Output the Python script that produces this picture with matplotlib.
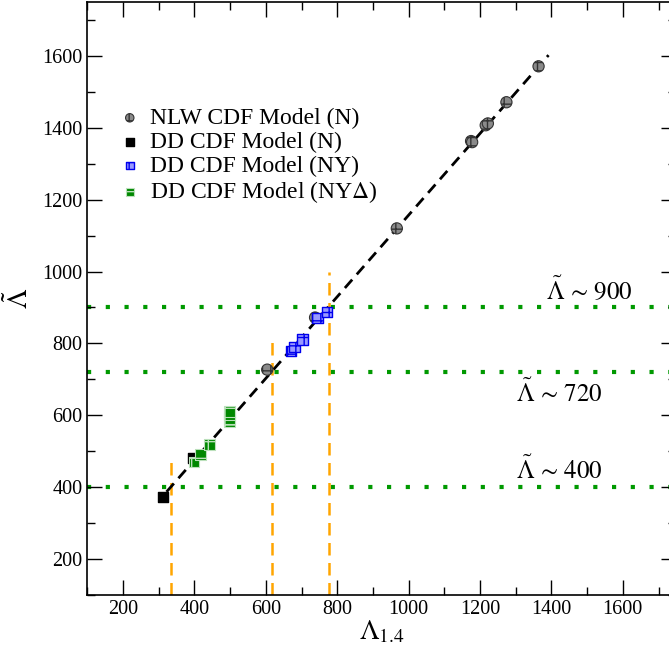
import numpy as np
import matplotlib
matplotlib.use("Agg")
import matplotlib.pyplot as plt

plt.rcParams['font.family'] = ['Liberation Serif', 'DejaVu Serif']
plt.rcParams['mathtext.fontset'] = 'stix'

# fit line (dashed)
fit_x = [322, 1392]
fit_y = [387, 1602]

# NLW CDF Model (N)
nlw_x = [604, 738, 967, 1175, 1178, 1216, 1222, 1274, 1364]
nlw_y = [727, 872, 1120, 1363, 1360, 1407, 1412, 1471, 1571]

# DD CDF Model (N)
ddn_x = [311, 396]
ddn_y = [372, 481]

# DD CDF Model (NY)
ddny_x = [671, 680, 703, 745, 771]
ddny_y = [778, 790, 811, 871, 887]

# DD CDF Model (NY Delta)
dddel_x = [399, 418, 443, 499, 499, 499, 499]
dddel_y = [470, 491, 518, 581, 592, 602, 610]

# horizontal reference levels
levels = [400, 720, 900]
level_labels = [r'$\tilde{\Lambda}\,\sim\,400$', r'$\tilde{\Lambda}\,\sim\,720$', r'$\tilde{\Lambda}\,\sim\,900$']
label_pos = [(1422, 447), (1422, 661), (1506, 948)]

# vertical orange lines
vx = [335, 618, 776]
vtop = [485, 808, 998]

fig = plt.figure(figsize=(6.69, 6.57), dpi=100)
ax = fig.add_axes([0.1305, 0.0944, 0.8805, 0.9026])

for lv in levels:
    ax.plot([100, 1750], [lv, lv], color='#009900', lw=3,
            linestyle=(0, (1, 3.5)), dash_capstyle='butt', zorder=1)
for x, t in zip(vx, vtop):
    ax.plot([x, x], [100, t], color='orange', lw=1.8,
            linestyle=(0, (5, 3)), zorder=1)

ax.plot(fit_x, fit_y, color='black', lw=2, linestyle=(0, (4, 2.5)), zorder=2)

ax.scatter(nlw_x, nlw_y, s=65, marker='o', facecolor='#8a8a8a', edgecolor='#333333',
           hatch='++', linewidths=0.8, zorder=3, label='NLW CDF Model (N)')
ax.scatter(ddn_x, ddn_y, s=60, marker='s', facecolor='black', edgecolor='black',
           zorder=3, label='DD CDF Model (N)')
ax.scatter(ddny_x, ddny_y, s=55, marker='s', facecolor='#9999ff', edgecolor='#0000ee',
           hatch='++', linewidths=1, zorder=4, label='DD CDF Model (NY)')
ax.scatter(dddel_x, dddel_y, s=60, marker='s', facecolor='#008800', edgecolor='#bbe0bb',
           hatch='+', linewidths=0.8, zorder=4, label=r'DD CDF Model (NY$\Delta$)')

for (lx, ly), txt in zip(label_pos, level_labels):
    ax.text(lx, ly, txt, fontsize=18, ha='center', va='center')

ax.set_xlim(100, 1750)
ax.set_ylim(100, 1750)
ax.set_xticks(np.arange(200, 1800, 200))
ax.set_yticks(np.arange(200, 1800, 200))
ax.set_xticks(np.arange(100, 1800, 100), minor=True)
ax.set_yticks(np.arange(100, 1800, 100), minor=True)
ax.tick_params(which='both', direction='in', top=True, right=True, labelsize=14.5)
ax.tick_params(which='major', length=10.5, width=1)
ax.tick_params(which='minor', length=5.5, width=1)
for s in ax.spines.values():
    s.set_linewidth(1.2)

ax.set_xlabel(r'$\Lambda_{1.4}$', fontsize=20, labelpad=0)
ax.set_ylabel(r'$\tilde{\Lambda}$', fontsize=20, labelpad=6)

ax.legend(loc='upper left', bbox_to_anchor=(0.036, 0.842), frameon=False,
          fontsize=17, handlelength=0.8, handletextpad=0.45, labelspacing=0.1,
          borderpad=0, markerscale=0.75)

fig.savefig('out.png', dpi=100)
